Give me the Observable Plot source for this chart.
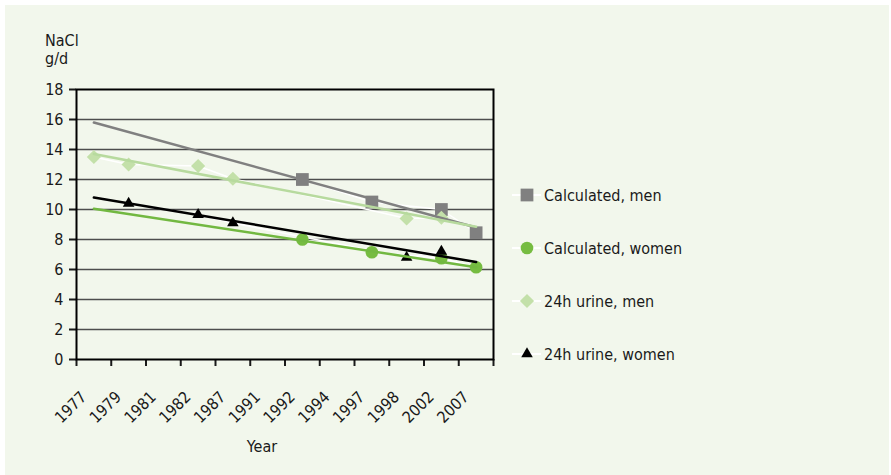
<!DOCTYPE html>
<html>
<head>
<meta charset="utf-8">
<script src="https://cdn.jsdelivr.net/npm/d3@7"></script>
<script src="https://cdn.jsdelivr.net/npm/@observablehq/plot@0.6"></script>
<style>
  body { margin: 0; background: #ffffff; }
  #wrap { position: relative; width: 891px; height: 475px; overflow: hidden;
          font-family: "DejaVu Sans Condensed", "DejaVu Sans", sans-serif; font-stretch: condensed; color: #1a1a1a; }
  #bg { position: absolute; left: 5px; top: 5px; width: 884px; height: 470px; background: #f2f7ec; }
  #chart { position: absolute; left: 0; top: 0; }
  .lbl { position: absolute; font-size: 16px; line-height: 18px; white-space: nowrap; }
  #legend { position: absolute; left: 512px; top: 185px; }
  .row { display: flex; align-items: center; height: 20px; margin-bottom: 33px; font-size: 16px; white-space: nowrap; }
  .row svg { margin-right: 2px; }
</style>
</head>
<body>
<div id="wrap">
  <div id="bg"></div>
  <div id="chart"></div>
  <div class="lbl" style="left:45px; top:32px;">NaCl<br>g/d</div>
  <div class="lbl" style="left:262px; top:438px; transform:translateX(-50%);">Year</div>
  <div id="legend"></div>
</div>
<script>
// Category axis (x tick labels)
const years = ["1977","1979","1981","1982","1987","1991","1992","1994","1997","1998","2002","2007"];

// Series: Calculated, men
const calcMenYears = ["1992","1997","2002","2007"];
const calcMenValues = [12.0, 10.5, 10.0, 8.45];
// Series: Calculated, women
const calcWomenYears = ["1992","1997","2002","2007"];
const calcWomenValues = [8.0, 7.15, 6.75, 6.15];
// Series: 24h urine, men
const urineMenYears = ["1977","1979","1982","1987","1998","2002"];
const urineMenValues = [13.5, 13.0, 12.9, 12.05, 9.4, 9.45];
// Series: 24h urine, women
const urineWomenYears = ["1979","1982","1987","1998","2002"];
const urineWomenValues = [10.4, 9.65, 9.1, 6.8, 7.2];

// Linear trend lines (value at first and last category), same series order
const seriesNames = ["Calculated, men","Calculated, women","24h urine, men","24h urine, women"];
const trendStart = [15.8, 10.05, 13.7, 10.8];
const trendEnd = [8.8, 6.15, 8.85, 6.5];

const yTicks = [0,2,4,6,8,10,12,14,16,18];

const styles = [
  {color: "#808080", trend: "#808080", symbol: "square", r: 7.2},
  {color: "#76bc41", trend: "#72b841", symbol: "circle", r: 6.3},
  {color: "#c3e0a9", trend: "#b7da9e", symbol: "diamond2", r: 6.4},
  {color: "#000000", trend: "#000000", symbol: "triangle", r: 4.3}
];

const rawSeries = [
  [calcMenYears, calcMenValues],
  [calcWomenYears, calcWomenValues],
  [urineMenYears, urineMenValues],
  [urineWomenYears, urineWomenValues]
];

const seriesData = rawSeries.map(([ys, vs], k) =>
  ys.map((y, i) => ({series: seriesNames[k], x: years.indexOf(y), y: vs[i]})));
const trends = seriesNames.flatMap((name, k) => [
  {series: name, x: 0, y: trendStart[k]},
  {series: name, x: years.length - 1, y: trendEnd[k]}
]);

const font = '"DejaVu Sans Condensed", "DejaVu Sans", sans-serif';

const marks = [
  Plot.ruleY(yTicks.slice(1, -1), {stroke: "#4d4d4d", strokeWidth: 1.5}),
  Plot.axisY({ticks: yTicks, tickSize: 7, tickPadding: 6, label: null, strokeWidth: 2, fontSize: 16}),
  Plot.axisX({ticks: d3.range(-0.5, years.length, 1), tickSize: 7, tickFormat: () => "", label: null, strokeWidth: 2}),
  Plot.text(years, {x: (d, i) => i, y: () => 0, text: d => d, rotate: -45, textAnchor: "end",
                    lineAnchor: "middle", dx: -10, dy: 35, fontSize: 16, fill: "#1a1a1a"}),
  Plot.frame({stroke: "#000", strokeWidth: 2}),
  ...seriesData.map(d => Plot.line(d, {x: "x", y: "y", stroke: "#ffffff", strokeWidth: 1.5})),
  ...seriesData.map((d, k) => Plot.dot(d, {x: "x", y: "y", symbol: styles[k].symbol, r: styles[k].r,
                                           fill: styles[k].color, stroke: "none"})),
  ...seriesNames.map((name, k) => Plot.line(trends.filter(t => t.series === name),
                                           {x: "x", y: "y", stroke: styles[k].trend, strokeWidth: 2.5}))
];

const chart = Plot.plot({
  width: 891, height: 475,
  marginLeft: 76, marginRight: 398, marginTop: 89, marginBottom: 116,
  style: {background: "transparent", fontFamily: font, fontSize: "16px", color: "#1a1a1a", overflow: "visible"},
  x: {domain: [-0.5, years.length - 0.5]},
  y: {domain: [0, 18]},
  marks
});
document.getElementById("chart").appendChild(chart);

// Legend
const symMap = {square: d3.symbolSquare, circle: d3.symbolCircle, diamond2: d3.symbolDiamond2, triangle: d3.symbolTriangle};
const legend = d3.select("#legend");
seriesNames.forEach((name, k) => {
  const row = legend.append("div").attr("class", "row");
  const svg = row.append("svg").attr("width", 30).attr("height", 20);
  svg.append("line").attr("x1", 0).attr("x2", 29).attr("y1", 10).attr("y2", 10)
     .attr("stroke", "#ffffff").attr("stroke-width", 2);
  svg.append("path").attr("transform", "translate(15,10)")
     .attr("d", d3.symbol(symMap[styles[k].symbol], Math.PI * styles[k].r * styles[k].r)())
     .attr("fill", styles[k].color);
  row.append("span").text(name);
});
</script>
</body>
</html>
